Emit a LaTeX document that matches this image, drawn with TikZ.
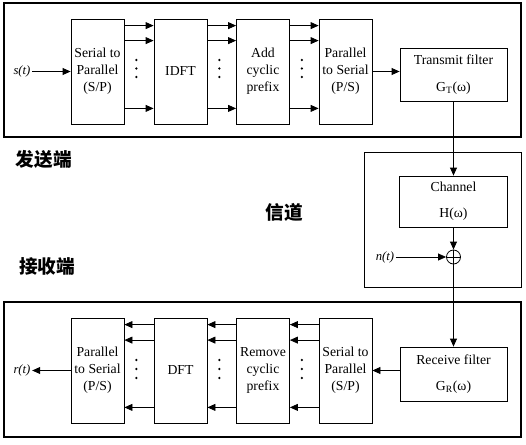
\documentclass[tikz,border=0pt]{standalone}
\usepackage{fontspec}
\setmainfont{Liberation Serif}
\newfontfamily\cjk{Noto Sans CJK SC}
\usetikzlibrary{arrows.meta,calc}

\tikzset{every picture/.style={line width=0.6pt}}

\begin{document}
\begin{tikzpicture}[x=0.75pt,y=0.75pt,yscale=-1,xscale=1,
  blk/.style={draw, minimum width=39.75pt, minimum height=78.75pt, inner sep=0pt, align=center, font=\fontsize{10.3}{12.75}\selectfont},
  filt/.style={draw, minimum width=80.25pt, minimum height=39.75pt, inner sep=0pt, align=center, font=\fontsize{10.3}{12.75}\selectfont},
  arr/.style={-{Triangle[length=6pt,width=5.2pt]}},
  frame/.style={line width=1.1pt},
  side/.style={font=\cjk\bfseries\fontsize{14}{16}\selectfont},
  sig/.style={font=\itshape\fontsize{9.5}{10}\selectfont, inner sep=1pt}
]
\path[use as bounding box] (0,0) rectangle (526,444);

%Frames
\draw[frame] (4,3) rectangle (521,137);
\draw (364,152) rectangle (521,287);
\draw[frame] (4,302) rectangle (521,437);

%Transmitter
\node[blk] (sp) at (97.5,71.5) {Serial to\\Parallel\\(S/P)};
\node[blk] (idft) at (180.5,71.5) {IDFT};
\node[blk] (cp) at (263,71.5) {Add\\cyclic\\prefix};
\node[blk] (ps) at (345.5,71.5) {Parallel\\to Serial\\(P/S)};
\node[filt] (tx) at (453.5,74.5) {Transmit filter\\[7pt]G\textsubscript{T}(ω)};
\node[sig] (s) at (22,71.5) {s(t)};

%Channel
\node[filt, minimum width=81pt, minimum height=38.25pt] (ch) at (453.5,201.5) {Channel\\[7pt]H(ω)};
\node[draw, circle, minimum size=10.5pt, inner sep=0pt] (sum) at (453.5,257) {};
\draw (sum.north) -- (sum.south) (sum.west) -- (sum.east);
\node[sig] (n) at (385,257) {n(t)};

%Receiver
\node[blk] (ps2) at (97.5,370.5) {Parallel\\to Serial\\(P/S)};
\node[blk] (dft) at (180.5,370.5) {DFT};
\node[blk] (rcp) at (263,370.5) {Remove\\cyclic\\prefix};
\node[blk] (sp2) at (345.5,370.5) {Serial to\\Parallel\\(S/P)};
\node[filt, minimum height=40.5pt] (rf) at (453.5,374) {Receive filter\\[7pt]G\textsubscript{R}(ω)};
\node[sig] (r) at (22,370.5) {r(t)};

% Side labels
\node[side] at (44,159) {发送端};
\node[side] at (284,212) {信道};
\node[side] at (47,266) {接收端};

% Parallel lines
\foreach \a/\b in {sp/idft, idft/cp, cp/ps}{
  \draw[arr] ($(\a.north east)+(0,7)$) -- ($(\b.north west)+(0,7)$);
  \draw[arr] ($(\a.north east)+(0,22)$) -- ($(\b.north west)+(0,22)$);
  \draw[arr] ($(\a.south east)+(0,-16)$) -- ($(\b.south west)+(0,-16)$);
  \foreach \d in {60,68.5,77} \fill ($(\a.east |- 0,\d)+(12,0)$) circle (1.3);
}
\foreach \a/\b in {ps2/dft, dft/rcp, rcp/sp2}{
  \draw[arr] ($(\b.north west)+(0,7)$) -- ($(\a.north east)+(0,7)$);
  \draw[arr] ($(\b.north west)+(0,22.5)$) -- ($(\a.north east)+(0,22.5)$);
  \draw[arr] ($(\b.south west)+(0,-16)$) -- ($(\a.south east)+(0,-16)$);
  \foreach \d in {360,369,378} \fill ($(\a.east |- 0,\d)+(12,0)$) circle (1.3);
}

% Connectors
\draw[arr] (s) -- (sp);
\draw[arr] (ps.east) -- (ps.east -| tx.west);
\draw[arr] (tx) -- (ch);
\draw[arr] (ch) -- (sum);
\draw[arr] (n) -- (sum);
\draw[arr] (sum) -- (rf);
\draw[arr] (rf.west |- sp2.east) -- (sp2.east);
\draw[arr] (ps2) -- (r);

\end{tikzpicture}
\end{document}
